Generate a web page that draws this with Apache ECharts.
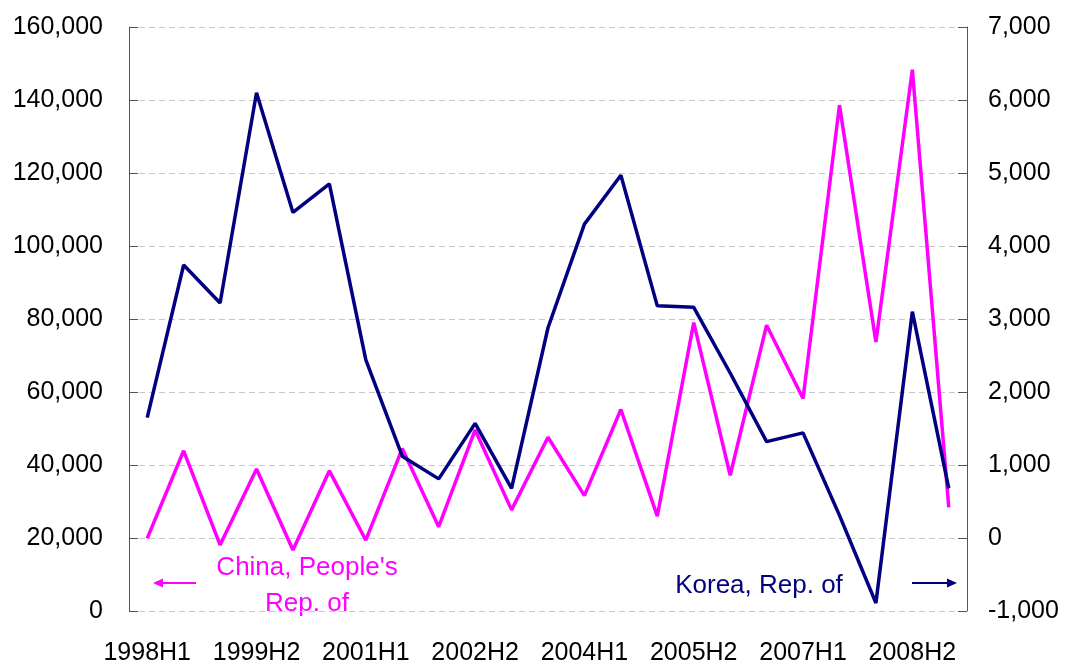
<!DOCTYPE html>
<html>
<head>
<meta charset="utf-8">
<script src="https://cdn.jsdelivr.net/npm/echarts@6/dist/echarts.min.js"></script>
<style>
  html, body { margin: 0; padding: 0; background: #fff; }
  #chart { width: 1083px; height: 664px; }
</style>
</head>
<body>
<div id="chart"></div>
<script>
// half-year periods 1998H1 .. 2009H1
const periods = [
  '1998H1', '1998H2', '1999H1', '1999H2', '2000H1', '2000H2', '2001H1', '2001H2',
  '2002H1', '2002H2', '2003H1', '2003H2', '2004H1', '2004H2', '2005H1', '2005H2',
  '2006H1', '2006H2', '2007H1', '2007H2', '2008H1', '2008H2', '2009H1'
];

// China, People's Rep. of (left axis)
const china = [
  19900, 43900, 18100, 38900, 16700, 38400, 19400, 44500, 23100, 49600, 27700, 47600,
  31600, 55200, 26000, 79000, 37200, 78300, 58200, 138600, 73700, 148300, 28400
];

// Korea, Rep. of (right axis)
const korea = [
  1650, 3740, 3220, 6100, 4460, 4850, 2440, 1120, 810, 1570, 680, 2880,
  4300, 4970, 3180, 3160, 2260, 1320, 1440, 310, -890, 3100, 680
];

const leftTicks = { min: 0, max: 160000, interval: 20000 };
const rightTicks = { min: -1000, max: 7000, interval: 1000 };

const FONT = "'Liberation Sans', Arial, sans-serif";
const MAGENTA = '#ff00ff';
const NAVY = '#000080';

const chart = echarts.init(document.getElementById('chart'));

function fmt(v) {
  return v.toLocaleString('en-US');
}

const option = {
  animation: false,
  backgroundColor: '#fff',
  grid: { left: 129, right: 116, top: 27, bottom: 53, outerBoundsMode: 'none', containLabel: false },
  xAxis: {
    type: 'category',
    data: periods,
    boundaryGap: true,
    axisLine: { show: false },
    axisTick: { show: false },
    axisLabel: {
      interval: 2,
      color: '#000',
      fontFamily: FONT,
      fontSize: 25,
      margin: 30
    }
  },
  yAxis: [
    {
      type: 'value',
      min: leftTicks.min,
      max: leftTicks.max,
      interval: leftTicks.interval,
      axisLine: { show: true, lineStyle: { color: '#555', width: 1 } },
      axisTick: { show: true, inside: true, length: 9, lineStyle: { color: '#555' } },
      axisLabel: {
        color: '#000',
        fontFamily: FONT,
        fontSize: 25,
        margin: 26,
        formatter: fmt
      },
      splitLine: { show: true, lineStyle: { color: '#c8c8c8', type: [6, 4], width: 1 } }
    },
    {
      type: 'value',
      min: rightTicks.min,
      max: rightTicks.max,
      interval: rightTicks.interval,
      position: 'right',
      axisLine: { show: true, lineStyle: { color: '#555', width: 1 } },
      axisTick: { show: true, inside: true, length: 9, lineStyle: { color: '#555' } },
      axisLabel: {
        color: '#000',
        fontFamily: FONT,
        fontSize: 25,
        margin: 21,
        formatter: fmt
      },
      splitLine: { show: false }
    }
  ],
  series: [
    {
      name: "China, People's Rep. of",
      type: 'line',
      yAxisIndex: 0,
      data: china,
      symbol: 'none',
      lineStyle: { color: MAGENTA, width: 3.5 },
      itemStyle: { color: MAGENTA },
      z: 2
    },
    {
      name: 'Korea, Rep. of',
      type: 'line',
      yAxisIndex: 1,
      data: korea,
      symbol: 'none',
      lineStyle: { color: NAVY, width: 3.5 },
      itemStyle: { color: NAVY },
      z: 3
    }
  ],
  graphic: [
    // label + arrow for China (left axis)
    {
      type: 'text',
      x: 307, y: 586,
      style: {
        text: "China, People's\nRep. of",
        fill: MAGENTA,
        font: '26px ' + FONT,
        align: 'center',
        verticalAlign: 'middle',
        lineHeight: 36
      }
    },
    {
      type: 'line',
      shape: { x1: 160, y1: 583, x2: 196, y2: 583 },
      style: { stroke: MAGENTA, lineWidth: 2 }
    },
    {
      type: 'polygon',
      shape: { points: [[153, 583], [163, 578.5], [163, 587.5]] },
      style: { fill: MAGENTA }
    },
    // label + arrow for Korea (right axis)
    {
      type: 'text',
      x: 759, y: 586,
      style: {
        text: 'Korea, Rep. of',
        fill: NAVY,
        font: '26px ' + FONT,
        align: 'center',
        verticalAlign: 'middle'
      }
    },
    {
      type: 'line',
      shape: { x1: 912, y1: 583, x2: 948, y2: 583 },
      style: { stroke: NAVY, lineWidth: 2 }
    },
    {
      type: 'polygon',
      shape: { points: [[957, 583], [947, 578.5], [947, 587.5]] },
      style: { fill: NAVY }
    }
  ]
};

chart.setOption(option);
</script>
</body>
</html>
